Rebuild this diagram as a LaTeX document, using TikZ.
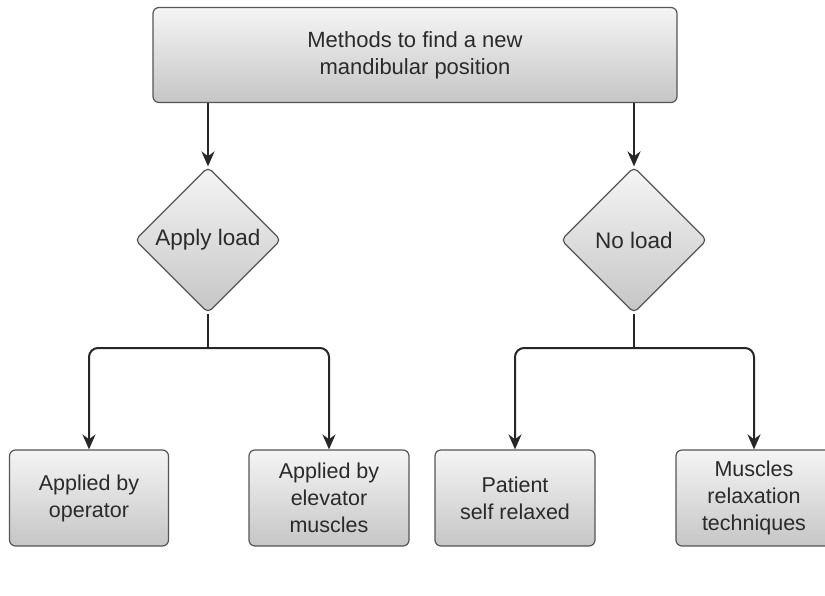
\documentclass[tikz,border=0pt]{standalone}
\usepackage{fontspec}
\setmainfont{Liberation Sans}
\usetikzlibrary{shapes.geometric,arrows.meta}

\definecolor{boxline}{HTML}{555555}
\definecolor{inktext}{HTML}{2A2A2A}
\tikzset{
  flowbox/.style={draw=boxline, line width=1.2pt, rounded corners=6pt,
    top color=gray!8, bottom color=gray!45, text=inktext, align=center,
    font=\fontsize{21.5}{27}\selectfont, inner sep=0pt},
  choice/.style={draw=boxline, line width=1.2pt, diamond, rounded corners=5pt,
    top color=gray!8, bottom color=gray!45, text=inktext, inner sep=0pt,
    minimum width=146pt, minimum height=146pt, font=\fontsize{22.5}{26}\selectfont},
  link/.style={line width=2pt, draw=black!85},
  arrow/.style={link, -{Stealth[length=15pt,width=13pt]}, rounded corners=9pt}
}

\begin{document}
\begin{tikzpicture}[x=1pt,y=-1pt]
  \useasboundingbox (0,0) rectangle (825,595);

  % Top of the chart
  \node[flowbox, minimum width=524pt, minimum height=95pt,
    font=\fontsize{22}{27}\selectfont] (methods) at (415,55)
    {Methods to find a new\\mandibular position};

  % The two branches
  \node[choice] (load) at (208,240) {Apply load};
  \node[choice] (noload) at (634,240) {No load};

  % Bottom boxes
  \node[flowbox, minimum width=159pt, minimum height=96pt] (operator) at (89,498)
    {Applied by\\operator};
  \node[flowbox, minimum width=160pt, minimum height=96pt] (elevator) at (329,498)
    {Applied by\\elevator\\muscles};
  \node[flowbox, minimum width=160pt, minimum height=96pt] (patient) at (515,498)
    {Patient\\self relaxed};
  \node[flowbox, minimum width=156pt, minimum height=96pt] (relax) at (754,498)
    {Muscles\\relaxation\\techniques};

  % Junctions under the diamonds
  \coordinate (loadjoin) at (208,348);
  \coordinate (noloadjoin) at (634,348);

  % Arrows
  \draw[arrow] (methods.south -| load) -- (load.north);
  \draw[arrow] (methods.south -| noload) -- (noload.north);

  \draw[link] (load.south) -- (loadjoin);
  \draw[arrow] (loadjoin) -| (operator.north);
  \draw[arrow] (loadjoin) -| (elevator.north);

  \draw[link] (noload.south) -- (noloadjoin);
  \draw[arrow] (noloadjoin) -| (patient.north);
  \draw[arrow] (noloadjoin) -| (relax.north);
\end{tikzpicture}
\end{document}
